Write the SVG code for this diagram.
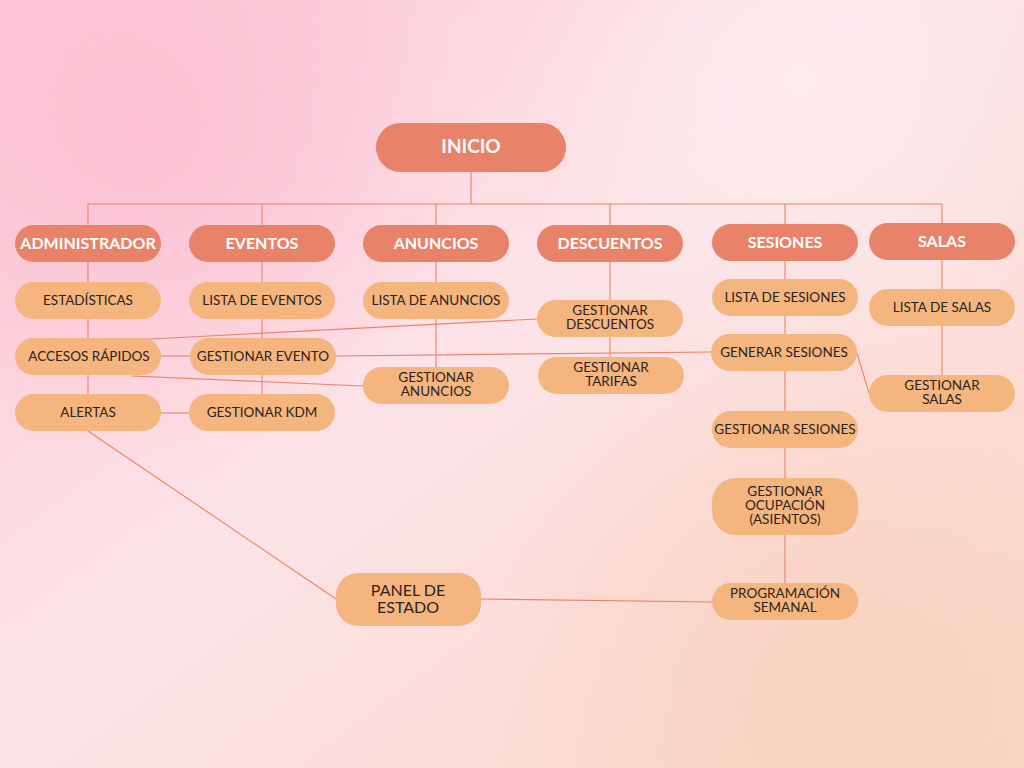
<svg xmlns="http://www.w3.org/2000/svg" width="1024" height="768" viewBox="0 0 1024 768">
<defs>
<linearGradient id="bg" x1="0" y1="0" x2="1" y2="1">
<stop offset="0" stop-color="#FCC7D6"/>
<stop offset="0.45" stop-color="#FCE3E8"/>
<stop offset="1" stop-color="#FAD8C8"/>
</linearGradient>
<radialGradient id="blobPink" cx="140" cy="130" r="330" gradientUnits="userSpaceOnUse">
<stop offset="0" stop-color="#FCC0D2" stop-opacity="1"/>
<stop offset="1" stop-color="#FCC0D2" stop-opacity="0"/>
</radialGradient>
<radialGradient id="blobPeach" cx="850" cy="700" r="380" gradientUnits="userSpaceOnUse">
<stop offset="0" stop-color="#F9D2C1" stop-opacity="1"/>
<stop offset="1" stop-color="#F9D2C1" stop-opacity="0"/>
</radialGradient>
<radialGradient id="blobLight" cx="800" cy="80" r="300" gradientUnits="userSpaceOnUse">
<stop offset="0" stop-color="#FDEBEE" stop-opacity="1"/>
<stop offset="1" stop-color="#FDEBEE" stop-opacity="0"/>
</radialGradient>
</defs>
<style>
.head rect{fill:#E8836A;}
.head text{fill:#FFFFFF;font-family:Lato,"Noto Sans",sans-serif;font-weight:700;font-size:16px;text-anchor:middle;}
.child rect{fill:#F4B57E;}
.child text{fill:#2B2320;font-family:Lato,"Noto Sans",sans-serif;font-size:13.5px;text-anchor:middle;}
.conn line{stroke:#E8836A;stroke-width:1.1;fill:none;}
</style>
<rect width="1024" height="768" fill="url(#bg)"/>
<rect width="1024" height="768" fill="url(#blobPink)"/>
<rect width="1024" height="768" fill="url(#blobLight)"/>
<rect width="1024" height="768" fill="url(#blobPeach)"/>

<g id="connectors" class="conn">
<line x1="471" y1="172" x2="471" y2="204"/>
<line x1="88" y1="204" x2="942" y2="204"/>
<line x1="88" y1="204" x2="88" y2="394"/>
<line x1="262" y1="204" x2="262" y2="394"/>
<line x1="436" y1="204" x2="436" y2="367"/>
<line x1="610" y1="204" x2="610" y2="357"/>
<line x1="785" y1="204" x2="785" y2="583"/>
<line x1="942" y1="204" x2="942" y2="375"/>
<line x1="161" y1="356" x2="190" y2="356"/>
<line x1="161" y1="413" x2="189" y2="413"/>
<line x1="132" y1="340" x2="537" y2="319"/>
<line x1="336" y1="356" x2="711" y2="352"/>
<line x1="132" y1="376" x2="363" y2="386"/>
<line x1="88" y1="431" x2="336" y2="599"/>
<line x1="481" y1="599" x2="712" y2="602"/>
<line x1="857" y1="353" x2="869" y2="393"/>
</g>

<g id="inicio" class="head"><rect x="376" y="123" width="190" height="49" rx="24.5"/><text x="471" y="153" style="font-size:19px">INICIO</text></g>

<g id="administrador" class="head"><rect x="15" y="225" width="146" height="37" rx="18.5"/><text x="88" y="248.5">ADMINISTRADOR</text></g>
<g id="eventos" class="head"><rect x="189" y="225" width="146" height="37" rx="18.5"/><text x="262" y="248.5">EVENTOS</text></g>
<g id="anuncios" class="head"><rect x="363" y="225" width="146" height="37" rx="18.5"/><text x="436" y="248.5">ANUNCIOS</text></g>
<g id="descuentos" class="head"><rect x="537" y="225" width="146" height="37" rx="18.5"/><text x="610" y="248.5">DESCUENTOS</text></g>
<g id="sesiones" class="head"><rect x="712" y="224" width="146" height="37" rx="18.5"/><text x="785" y="247.5">SESIONES</text></g>
<g id="salas" class="head"><rect x="869" y="223" width="146" height="37" rx="18.5"/><text x="942" y="246.5">SALAS</text></g>

<g id="estadisticas" class="child"><rect x="15" y="282" width="146" height="37" rx="18.5"/><text x="88" y="304.5">ESTADÍSTICAS</text></g>
<g id="accesos-rapidos" class="child"><rect x="15" y="338" width="146" height="37" rx="18.5"/><text x="89" y="360.5">ACCESOS RÁPIDOS</text></g>
<g id="alertas" class="child"><rect x="15" y="394" width="146" height="37" rx="18.5"/><text x="88" y="416.5">ALERTAS</text></g>

<g id="lista-eventos" class="child"><rect x="189" y="282" width="146" height="37" rx="18.5"/><text x="262" y="304.5">LISTA DE EVENTOS</text></g>
<g id="gestionar-evento" class="child"><rect x="190" y="338" width="146" height="37" rx="18.5"/><text x="263" y="360.5">GESTIONAR EVENTO</text></g>
<g id="gestionar-kdm" class="child"><rect x="189" y="394" width="146" height="37" rx="18.5"/><text x="262" y="416.5">GESTIONAR KDM</text></g>

<g id="lista-anuncios" class="child"><rect x="363" y="282" width="146" height="37" rx="18.5"/><text x="436" y="304.5">LISTA DE ANUNCIOS</text></g>
<g id="gestionar-anuncios" class="child"><rect x="363" y="367" width="146" height="37" rx="18.5"/><text x="436" y="382">GESTIONAR</text><text x="436" y="396">ANUNCIOS</text></g>

<g id="gestionar-descuentos" class="child"><rect x="537" y="300" width="146" height="37" rx="18.5"/><text x="610" y="315">GESTIONAR</text><text x="610" y="329">DESCUENTOS</text></g>
<g id="gestionar-tarifas" class="child"><rect x="538" y="357" width="146" height="37" rx="18.5"/><text x="611" y="372">GESTIONAR</text><text x="611" y="386">TARIFAS</text></g>

<g id="lista-sesiones" class="child"><rect x="712" y="279" width="146" height="37" rx="18.5"/><text x="785" y="301.5">LISTA DE SESIONES</text></g>
<g id="generar-sesiones" class="child"><rect x="711" y="334" width="146" height="37" rx="18.5"/><text x="784" y="356.5">GENERAR SESIONES</text></g>
<g id="gestionar-sesiones" class="child"><rect x="712" y="411" width="146" height="37" rx="18.5"/><text x="785" y="433.5">GESTIONAR SESIONES</text></g>
<g id="gestionar-ocupacion" class="child"><rect x="712" y="478" width="146" height="57" rx="24"/><text x="785" y="496">GESTIONAR</text><text x="785" y="510">OCUPACIÓN</text><text x="785" y="524">(ASIENTOS)</text></g>
<g id="programacion-semanal" class="child"><rect x="712" y="583" width="146" height="37" rx="18.5"/><text x="785" y="598">PROGRAMACIÓN</text><text x="785" y="612">SEMANAL</text></g>

<g id="lista-salas" class="child"><rect x="869" y="289" width="146" height="37" rx="18.5"/><text x="942" y="311.5">LISTA DE SALAS</text></g>
<g id="gestionar-salas" class="child"><rect x="869" y="375" width="146" height="37" rx="18.5"/><text x="942" y="390">GESTIONAR</text><text x="942" y="404">SALAS</text></g>

<g id="panel-estado" class="child"><rect x="336" y="573" width="145" height="53" rx="22"/><text x="408" y="596" style="font-size:16px">PANEL DE</text><text x="408" y="613" style="font-size:16px">ESTADO</text></g>
</svg>
